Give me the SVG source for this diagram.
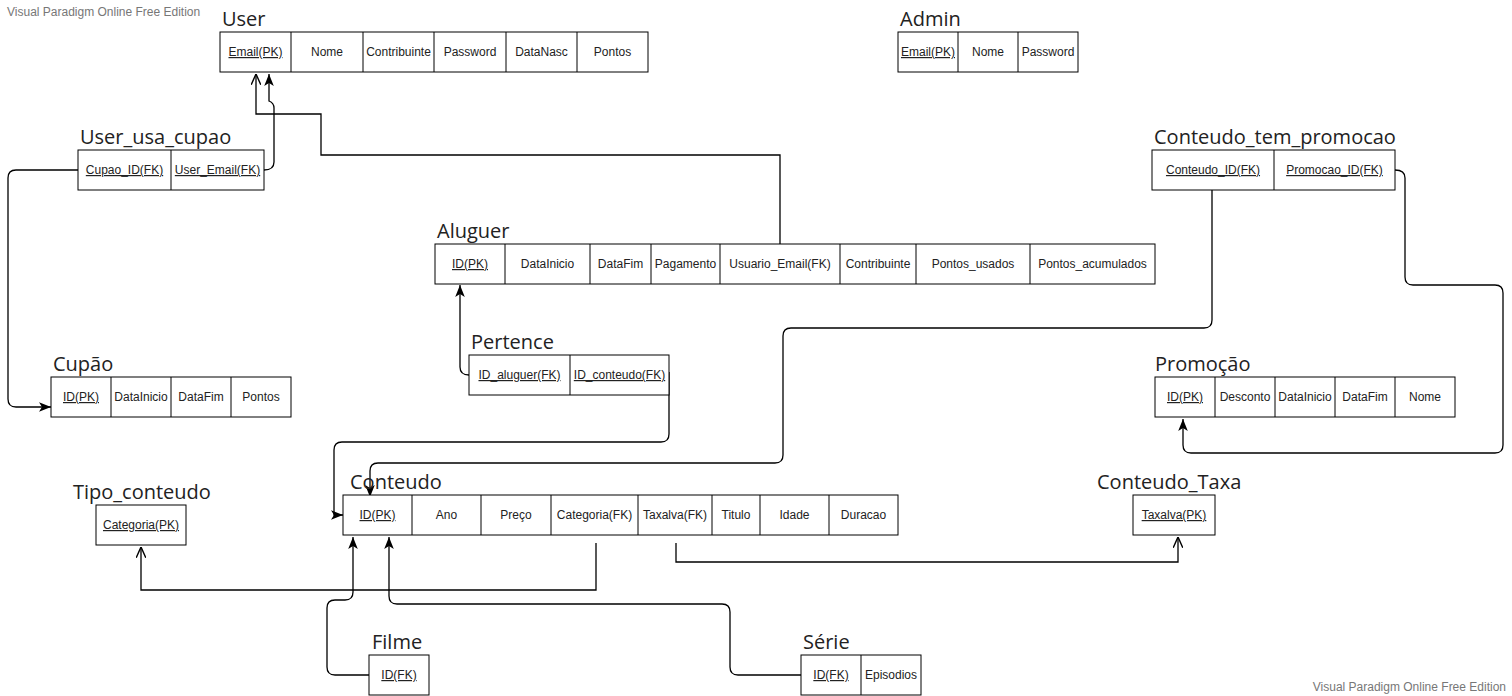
<svg xmlns="http://www.w3.org/2000/svg" width="1512" height="696" viewBox="0 0 1512 696">
<style>
.box{fill:#fff;stroke:#000;stroke-width:1}
.t{font-family:"Liberation Sans",Arial,sans-serif;font-size:12px;fill:#222;text-anchor:middle}
.u{text-decoration:underline}
.title{font-family:"Open Sans","Noto Sans",sans-serif;font-size:20px;fill:#222}
.wm{font-family:"Liberation Sans",Arial,sans-serif;font-size:12px;fill:#777}
.c{fill:none;stroke:#000;stroke-width:1.3}
</style>
<defs>
<marker id="af" markerUnits="userSpaceOnUse" markerWidth="12" markerHeight="10" viewBox="0 0 10 8" refX="10" refY="4" orient="auto"><path d="M0,0 L10,4 L0,8 L2.5,4 Z" fill="#000"/></marker>
<marker id="ao" markerUnits="userSpaceOnUse" markerWidth="12" markerHeight="10" viewBox="0 0 10 8" refX="10" refY="4" orient="auto"><path d="M1,0 L10,4 L1,8" fill="none" stroke="#000" stroke-width="1.2"/></marker>
</defs>
<rect width="1512" height="696" fill="#fff"/>
<text class="wm" x="7" y="16">Visual Paradigm Online Free Edition</text>
<text class="wm" x="1506" y="691" text-anchor="end">Visual Paradigm Online Free Edition</text>

<g id="connectors">
<path class="c" d="M780,244 V155 H321 V114 H256 V74" marker-end="url(#ao)"/>
<path class="c" d="M264,170 Q274,170 274,162 V108 Q274,103 269,101 V74" marker-end="url(#af)"/>
<path class="c" d="M78,170 H16 Q8,170 8,178 V399 Q8,407 16,407 H51" marker-end="url(#af)"/>
<path class="c" d="M469,375 Q460,375 460,367 V285" marker-end="url(#af)"/>
<path class="c" d="M669,372 V434 Q669,442 661,442 H342 Q334,442 334,450 V515 H343" marker-end="url(#af)"/>
<path class="c" d="M1212,190 V320 Q1212,328 1204,328 H791 Q783,328 783,336 V455 Q783,463 775,463 H378 Q370,463 370,471 V497" marker-end="url(#af)"/>
<path class="c" d="M1395,170 Q1405,170 1405,178 V277 Q1405,285 1413,285 H1495 Q1503,285 1503,293 V445 Q1503,453 1495,453 H1191 Q1183,453 1183,445 V419" marker-end="url(#af)"/>
<path class="c" d="M596,543 V590 H141 V547" marker-end="url(#ao)"/>
<path class="c" d="M676,543 V562 H1178 V537" marker-end="url(#ao)"/>
<path class="c" d="M369,675 H335 Q327,675 327,667 V608 Q327,600 335,600 H345 Q353,600 353,592 V537" marker-end="url(#af)"/>
<path class="c" d="M801,675 H738 Q730,675 730,667 V612 Q730,604 722,604 H397 Q389,604 389,596 V537" marker-end="url(#af)"/>
</g>

<g id="user">
<text class="title" x="222" y="26">User</text>
<rect class="box" x="220" y="32" width="428" height="40"/>
<path d="M291,32V72M363,32V72M434,32V72M506,32V72M577,32V72" stroke="#000"/>
<text class="t u" x="255.5" y="56">Email(PK)</text>
<text class="t" x="327" y="56">Nome</text>
<text class="t" x="398.5" y="56">Contribuinte</text>
<text class="t" x="470" y="56">Password</text>
<text class="t" x="541.5" y="56">DataNasc</text>
<text class="t" x="612.5" y="56">Pontos</text>
</g>

<g id="admin">
<text class="title" x="900" y="26">Admin</text>
<rect class="box" x="898" y="32" width="180" height="40"/>
<path d="M958,32V72M1018,32V72" stroke="#000"/>
<text class="t u" x="928" y="56">Email(PK)</text>
<text class="t" x="988" y="56">Nome</text>
<text class="t" x="1048" y="56">Password</text>
</g>

<g id="user_usa_cupao">
<text class="title" x="80" y="144">User_usa_cupao</text>
<rect class="box" x="78" y="150" width="186" height="40"/>
<path d="M171,150V190" stroke="#000"/>
<text class="t u" x="124.5" y="174">Cupao_ID(FK)</text>
<text class="t u" x="217.5" y="174">User_Email(FK)</text>
</g>

<g id="conteudo_tem_promocao">
<text class="title" x="1154" y="144">Conteudo_tem_promocao</text>
<rect class="box" x="1152" y="150" width="243" height="40"/>
<path d="M1274,150V190" stroke="#000"/>
<text class="t u" x="1213" y="174">Conteudo_ID(FK)</text>
<text class="t u" x="1334.5" y="174">Promocao_ID(FK)</text>
</g>

<g id="aluguer">
<text class="title" x="437" y="238">Aluguer</text>
<rect class="box" x="435" y="244" width="720" height="40"/>
<path d="M505,244V284M590,244V284M651,244V284M720,244V284M840,244V284M916,244V284M1030,244V284" stroke="#000"/>
<text class="t u" x="470" y="268">ID(PK)</text>
<text class="t" x="547.5" y="268">DataInicio</text>
<text class="t" x="620.5" y="268">DataFim</text>
<text class="t" x="685.5" y="268">Pagamento</text>
<text class="t" x="780" y="268">Usuario_Email(FK)</text>
<text class="t" x="878" y="268">Contribuinte</text>
<text class="t" x="973" y="268">Pontos_usados</text>
<text class="t" x="1092.5" y="268">Pontos_acumulados</text>
</g>

<g id="pertence">
<text class="title" x="471" y="349">Pertence</text>
<rect class="box" x="469" y="355" width="200" height="40"/>
<path d="M570,355V395" stroke="#000"/>
<text class="t u" x="519.5" y="379">ID_aluguer(FK)</text>
<text class="t u" x="619.5" y="379">ID_conteudo(FK)</text>
</g>

<g id="cupao">
<text class="title" x="53" y="371">Cupão</text>
<rect class="box" x="51" y="377" width="240" height="40"/>
<path d="M111,377V417M171,377V417M231,377V417" stroke="#000"/>
<text class="t u" x="81" y="401">ID(PK)</text>
<text class="t" x="141" y="401">DataInicio</text>
<text class="t" x="201" y="401">DataFim</text>
<text class="t" x="261" y="401">Pontos</text>
</g>

<g id="promocao">
<text class="title" x="1155" y="371">Promoção</text>
<rect class="box" x="1155" y="377" width="300" height="40"/>
<path d="M1215,377V417M1275,377V417M1335,377V417M1395,377V417" stroke="#000"/>
<text class="t u" x="1185" y="401">ID(PK)</text>
<text class="t" x="1245" y="401">Desconto</text>
<text class="t" x="1305" y="401">DataInicio</text>
<text class="t" x="1365" y="401">DataFim</text>
<text class="t" x="1425" y="401">Nome</text>
</g>

<g id="conteudo">
<text class="title" x="350" y="489">Conteudo</text>
<rect class="box" x="343" y="495" width="555" height="40"/>
<path d="M412,495V535M481,495V535M551,495V535M638,495V535M712,495V535M760,495V535M829,495V535" stroke="#000"/>
<text class="t u" x="377.5" y="519">ID(PK)</text>
<text class="t" x="446.5" y="519">Ano</text>
<text class="t" x="516" y="519">Preço</text>
<text class="t" x="594.5" y="519">Categoria(FK)</text>
<text class="t" x="675" y="519">Taxalva(FK)</text>
<text class="t" x="736" y="519">Titulo</text>
<text class="t" x="794.5" y="519">Idade</text>
<text class="t" x="863.5" y="519">Duracao</text>
</g>

<g id="tipo_conteudo">
<text class="title" x="73" y="499">Tipo_conteudo</text>
<rect class="box" x="96" y="505" width="90" height="40"/>
<text class="t u" x="141" y="529">Categoria(PK)</text>
</g>

<g id="conteudo_taxa">
<text class="title" x="1097" y="489">Conteudo_Taxa</text>
<rect class="box" x="1133" y="495" width="82" height="40"/>
<text class="t u" x="1174" y="519">Taxalva(PK)</text>
</g>

<g id="filme">
<text class="title" x="372" y="649">Filme</text>
<rect class="box" x="369" y="655" width="60" height="40"/>
<text class="t u" x="399" y="679">ID(FK)</text>
</g>

<g id="serie">
<text class="title" x="803" y="649">Série</text>
<rect class="box" x="801" y="655" width="120" height="40"/>
<path d="M861,655V695" stroke="#000"/>
<text class="t u" x="831" y="679">ID(FK)</text>
<text class="t" x="891" y="679">Episodios</text>
</g>
</svg>
